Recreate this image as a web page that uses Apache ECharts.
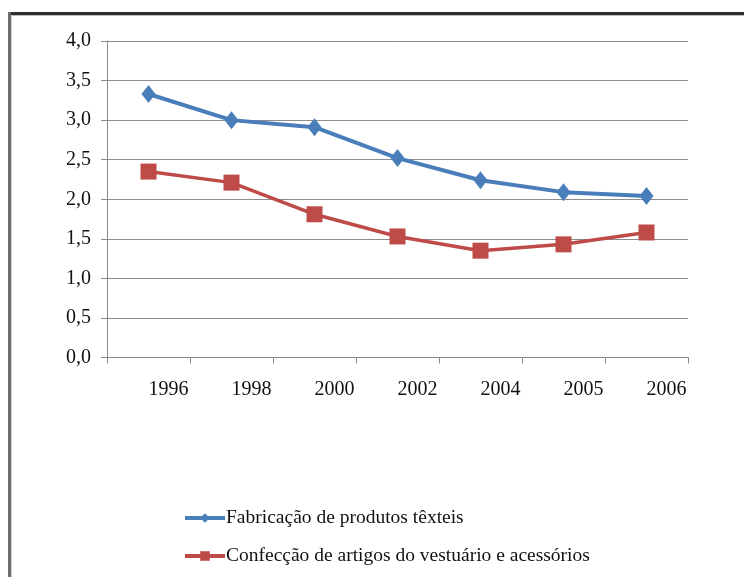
<!DOCTYPE html>
<html>
<head>
<meta charset="utf-8">
<script src="https://cdn.jsdelivr.net/npm/echarts@6/dist/echarts.min.js"></script>
<style>
  html, body { margin: 0; padding: 0; background: #ffffff; }
  #chart { width: 744px; height: 577px; }
</style>
</head>
<body>
<div id="chart"></div>
<script>
// Years on the horizontal axis
const years = ['1996', '1998', '2000', '2002', '2004', '2005', '2006'];

// Series values
const textilValues = [3.33, 3.00, 2.91, 2.52, 2.24, 2.09, 2.04];
const vestuarioValues = [2.35, 2.21, 1.81, 1.53, 1.35, 1.43, 1.58];

// Series names
const textilName = 'Fabricação de produtos têxteis';
const vestuarioName = 'Confecção de artigos do vestuário e acessórios';

// Vertical axis tick labels (comma decimal separator)
const yTickLabels = ['0,0', '0,5', '1,0', '1,5', '2,0', '2,5', '3,0', '3,5', '4,0'];

const serif = '"Liberation Serif", "Times New Roman", serif';
const chart = echarts.init(document.getElementById('chart'), null, { renderer: 'canvas' });

chart.setOption({
  backgroundColor: '#ffffff',
  animation: false,
  textStyle: { fontFamily: serif },
  graphic: [
    // frame around the chart area (top and left edges)
    { type: 'rect', shape: { x: 8, y: 12, width: 740, height: 3 }, style: { fill: '#2e2e2e' }, z: 10 },
    { type: 'rect', shape: { x: 8, y: 15, width: 740, height: 1 }, style: { fill: '#bdbdbd' }, z: 10 },
    { type: 'rect', shape: { x: 8, y: 12, width: 3, height: 570 }, style: { fill: '#6e6e6e' }, z: 10 },
    { type: 'rect', shape: { x: 11, y: 15, width: 1, height: 570 }, style: { fill: '#d0d0d0' }, z: 10 }
  ],
  grid: { left: 107, right: 56, top: 41, bottom: 219.5, containLabel: false },
  legend: {
    orient: 'vertical',
    left: 183,
    top: 506,
    height: 120,
    padding: 0,
    itemWidth: 40,
    itemHeight: 12,
    itemGap: 14,
    lineStyle: { width: 4 },
    textStyle: {
      fontFamily: serif, fontSize: 19.5, color: '#111111',
      lineHeight: 24, padding: [0, 0, 0, -4]
    },
    data: [textilName, vestuarioName]
  },
  xAxis: {
    type: 'category',
    data: years,
    boundaryGap: true,
    axisLine: { show: true, lineStyle: { color: '#8a8a8a', width: 1 } },
    axisTick: { show: true, alignWithLabel: false, length: 6, lineStyle: { color: '#8a8a8a' } },
    axisLabel: {
      fontFamily: serif, fontSize: 20, color: '#111111', margin: 22,
      padding: [0, 0, 0, 40]
    },
    splitLine: { show: false }
  },
  yAxis: {
    type: 'value',
    min: 0,
    max: 4,
    interval: 0.5,
    axisLine: { show: true, lineStyle: { color: '#8a8a8a', width: 1 } },
    axisTick: { show: true, length: 6, lineStyle: { color: '#8a8a8a' } },
    axisLabel: {
      fontFamily: serif, fontSize: 20, color: '#111111', margin: 16,
      formatter: function (v) { return yTickLabels[Math.round(v / 0.5)]; }
    },
    splitLine: { show: true, lineStyle: { color: '#8c8c8c', width: 1 } }
  },
  series: [
    {
      name: textilName,
      type: 'line',
      data: textilValues,
      symbol: 'diamond',
      symbolSize: [14, 18],
      color: '#4a7ebb',
      lineStyle: { width: 4, color: '#4a7ebb' },
      itemStyle: { color: '#4a7ebb' }
    },
    {
      name: vestuarioName,
      type: 'line',
      data: vestuarioValues,
      symbol: 'rect',
      symbolSize: 16,
      color: '#be4b48',
      lineStyle: { width: 3.5, color: '#be4b48' },
      itemStyle: { color: '#be4b48' }
    }
  ]
});
</script>
</body>
</html>
